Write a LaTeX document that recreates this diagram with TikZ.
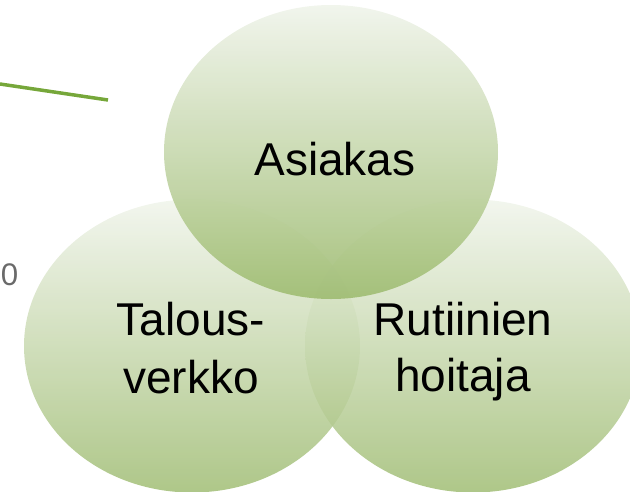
\documentclass[tikz,border=0pt]{standalone}
\usepackage{fontspec}
\setmainfont{Liberation Sans}
\usetikzlibrary{shapes.geometric}
\definecolor{gtop}{HTML}{F0F4EB}
\definecolor{gbot}{HTML}{A0BD74}
\definecolor{lineg}{HTML}{76A73A}
\definecolor{numgray}{HTML}{6A6A6A}
\tikzset{
  bubble/.style={ellipse, draw=none, inner sep=0pt, minimum width=336pt, minimum height=293pt,
    top color=gtop, bottom color=gbot},
  label/.style={inner sep=0pt, font=\fontsize{46}{57}\selectfont, text=black, align=center},
  numlabel/.style={inner sep=0pt, text=numgray, font=\fontsize{25}{30}\selectfont},
}
\begin{document}
\begin{tikzpicture}[x=1pt,y=1pt]
\useasboundingbox (0,0) rectangle (630,-491);
\clip (0,0) rectangle (630,-491);
\coordinate (l1) at (0,-84);
\coordinate (l2) at (108,-100);
\draw[lineg, line width=3.5pt] (l1) -- (l2);
\node[numlabel, anchor=base] (num) at (9.5,-285) {\scalebox{1.25}{0}};
\node[bubble, fill opacity=0.85] (rc) at (473,-346) {};
\node[bubble, fill opacity=0.85] (lc) at (192,-346) {};
\node[bubble, fill opacity=0.93, minimum width=334pt, minimum height=294pt] (tc) at (331,-152) {};
\node[label, anchor=base] (ta) at (335,-175) {Asiakas};
\node[label, anchor=base] (tl1) at (191,-335) {Talous-};
\node[label, anchor=base] (tl2) at (191,-393) {verkko};
\node[label, anchor=base] (tr1) at (463,-335) {Rutiinien};
\node[label, anchor=base] (tr2) at (463,-391) {hoitaja};
\end{tikzpicture}
\end{document}
